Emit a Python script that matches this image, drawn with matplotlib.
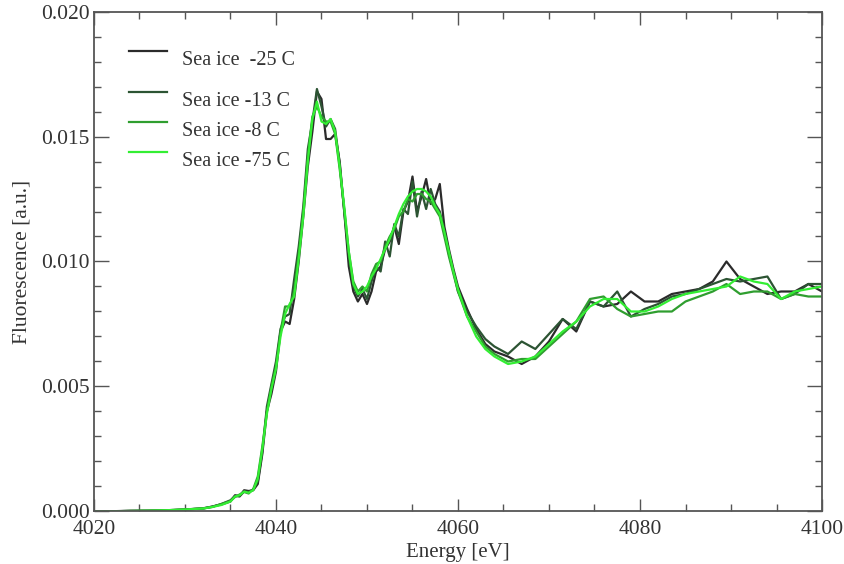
import numpy as np
import matplotlib
matplotlib.use('Agg')
import matplotlib.pyplot as plt
from matplotlib.ticker import MultipleLocator, FormatStrFormatter

# energy grid [eV]: coarse pre-edge, 0.5 eV through the edge, coarser EXAFS tail
energy_pre = [4020, 4022, 4024, 4026, 4028, 4030, 4032, 4033, 4034]
energy_edge = list(np.arange(4035, 4060.01, 0.5))
energy_post = [4061, 4062, 4063, 4064, 4065.5, 4067, 4068.5, 4070, 4071.5, 4073,
               4074.5, 4076, 4077.5, 4079, 4080.5, 4082, 4083.5, 4085, 4086.5, 4088,
               4089.5, 4091, 4092.5, 4094, 4095.5, 4097, 4098.5, 4100]
energy = energy_pre + energy_edge + energy_post

# fluorescence [a.u.]
ice_25 = [0.00000, 0.00001, 0.00003, 0.00003, 0.00005, 0.00008, 0.00012, 0.00020, 0.00028,
          0.00040, 0.00065, 0.00062, 0.00085, 0.00082, 0.00085, 0.00110, 0.00230, 0.00400, 0.00470,
          0.00560, 0.00720, 0.00760, 0.00750, 0.00850, 0.01000, 0.01180, 0.01380, 0.01520, 0.01680,
          0.01650, 0.01490, 0.01490, 0.01510, 0.01400, 0.01200, 0.00980, 0.00880, 0.00840, 0.00870,
          0.00830, 0.00880, 0.00960, 0.00980, 0.01050, 0.01080, 0.01140, 0.01070, 0.01200, 0.01240,
          0.01340, 0.01200, 0.01260, 0.01330, 0.01230, 0.01250, 0.01310, 0.01140, 0.01050, 0.00970,
          0.00900,
          0.0081, 0.0073, 0.0067, 0.0064, 0.0062, 0.0059, 0.0062, 0.0068, 0.0077, 0.0072,
          0.0084, 0.0082, 0.0083, 0.0088, 0.0084, 0.0084, 0.0087, 0.0088, 0.0089, 0.0092,
          0.0100, 0.0093, 0.0090, 0.0087, 0.0088, 0.0088, 0.0091, 0.0088]

ice_13 = [0.00000, 0.00001, 0.00002, 0.00003, 0.00004, 0.00008, 0.00013, 0.00019, 0.00030,
          0.00045, 0.00062, 0.00060, 0.00080, 0.00078, 0.00088, 0.00120, 0.00240, 0.00420, 0.00510,
          0.00600, 0.00730, 0.00780, 0.00790, 0.00930, 0.01060, 0.01220, 0.01450, 0.01560, 0.01690,
          0.01620, 0.01540, 0.01570, 0.01530, 0.01390, 0.01200, 0.01020, 0.00900, 0.00860, 0.00890,
          0.00850, 0.00920, 0.00980, 0.00960, 0.01080, 0.01020, 0.01150, 0.01100, 0.01210, 0.01190,
          0.01320, 0.01180, 0.01280, 0.01210, 0.01290, 0.01230, 0.01200, 0.01120, 0.01030, 0.00960,
          0.00880,
          0.0080, 0.0074, 0.0069, 0.0066, 0.0063, 0.0068, 0.0065, 0.0071, 0.0077, 0.0073,
          0.0084, 0.0082, 0.0088, 0.0078, 0.0081, 0.0083, 0.0086, 0.0087, 0.0089, 0.0091,
          0.0093, 0.0092, 0.0093, 0.0094, 0.0085, 0.0087, 0.0091, 0.0091]

ice_8 = [0.00000, 0.00001, 0.00002, 0.00003, 0.00005, 0.00008, 0.00012, 0.00018, 0.00030,
         0.00042, 0.00058, 0.00068, 0.00078, 0.00072, 0.00090, 0.00140, 0.00260, 0.00400, 0.00500,
         0.00580, 0.00720, 0.00820, 0.00820, 0.00880, 0.01030, 0.01200, 0.01420, 0.01580, 0.01620,
         0.01580, 0.01560, 0.01560, 0.01510, 0.01370, 0.01210, 0.01040, 0.00920, 0.00880, 0.00900,
         0.00880, 0.00950, 0.00990, 0.01000, 0.01060, 0.01100, 0.01130, 0.01180, 0.01200, 0.01250,
         0.01240, 0.01270, 0.01270, 0.01250, 0.01240, 0.01210, 0.01180, 0.01100, 0.01020, 0.00950,
         0.00880,
         0.0078, 0.0072, 0.0066, 0.0063, 0.0060, 0.0061, 0.0061, 0.0066, 0.0071, 0.0076,
         0.0085, 0.0086, 0.0081, 0.0078, 0.0079, 0.0080, 0.0080, 0.0084, 0.0086, 0.0088,
         0.0091, 0.0087, 0.0088, 0.0088, 0.0085, 0.0087, 0.0086, 0.0086]

ice_75 = [0.00000, 0.00001, 0.00002, 0.00003, 0.00005, 0.00008, 0.00012, 0.00018, 0.00026,
          0.00040, 0.00060, 0.00065, 0.00080, 0.00075, 0.00085, 0.00130, 0.00250, 0.00390, 0.00490,
          0.00570, 0.00700, 0.00790, 0.00830, 0.00860, 0.01010, 0.01180, 0.01400, 0.01570, 0.01640,
          0.01560, 0.01550, 0.01570, 0.01520, 0.01380, 0.01220, 0.01040, 0.00910, 0.00870, 0.00880,
          0.00900, 0.00940, 0.00970, 0.01010, 0.01050, 0.01090, 0.01140, 0.01190, 0.01230, 0.01260,
          0.01280, 0.01290, 0.01290, 0.01280, 0.01260, 0.01220, 0.01190, 0.01120, 0.01040, 0.00960,
          0.00890,
          0.0078, 0.0070, 0.0065, 0.0062, 0.0059, 0.0060, 0.0062, 0.0067, 0.0072, 0.0076,
          0.0082, 0.0085, 0.0085, 0.0080, 0.0080, 0.0082, 0.0085, 0.0087, 0.0088, 0.0089,
          0.0090, 0.0094, 0.0092, 0.0091, 0.0085, 0.0088, 0.0089, 0.0090]

labels = ['Sea ice  -25 C', 'Sea ice -13 C', 'Sea ice -8 C', 'Sea ice -75 C']
colors = ['#2b2b2b', '#2c5433', '#2f9e2f', '#33ee33']
series = [ice_25, ice_13, ice_8, ice_75]

plt.rcParams['font.family'] = ['Liberation Serif', 'DejaVu Serif']
plt.rcParams['font.size'] = 14.5

fig = plt.figure(figsize=(8.45, 5.64), dpi=100)
ax = fig.add_axes([0.1112, 0.0931, 0.8616, 0.8865])

for y, c in zip(series, colors):
    ax.plot(energy, y, color=c, lw=1.6)

ax.set_xlim(4020, 4100)
ax.set_ylim(0, 0.020)
ax.xaxis.set_major_locator(MultipleLocator(20))
ax.xaxis.set_minor_locator(MultipleLocator(5))
ax.yaxis.set_major_locator(MultipleLocator(0.005))
ax.yaxis.set_minor_locator(MultipleLocator(0.001))
ax.yaxis.set_major_formatter(FormatStrFormatter('%.3f'))

ax.tick_params(which='both', direction='in', top=True, right=True, color='#555555',
               labelcolor='#333333', width=1.0, labelsize=15.5)
ax.tick_params(axis='x', which='major', length=9, pad=6)
ax.tick_params(axis='y', which='major', length=11, pad=3)
ax.tick_params(which='minor', length=5)
for s in ax.spines.values():
    s.set_color('#555555')
    s.set_linewidth(1.3)

ax.set_xlabel('Energy [eV]', color='#333333', labelpad=3, fontsize=15)
ax.set_ylabel('Fluorescence [a.u.]', color='#333333', labelpad=7, fontsize=15.5)

# hand-placed legend, entries not evenly spaced in the original
leg_y = [0.921, 0.840, 0.780, 0.720]
for lab, c, yy in zip(labels, colors, leg_y):
    ax.plot([0.048, 0.100], [yy, yy], color=c, lw=1.6, transform=ax.transAxes)
    ax.text(0.121, yy - 0.019, lab, transform=ax.transAxes, va='center', ha='left',
            color='#333333')

fig.savefig('out.png', dpi=100)
